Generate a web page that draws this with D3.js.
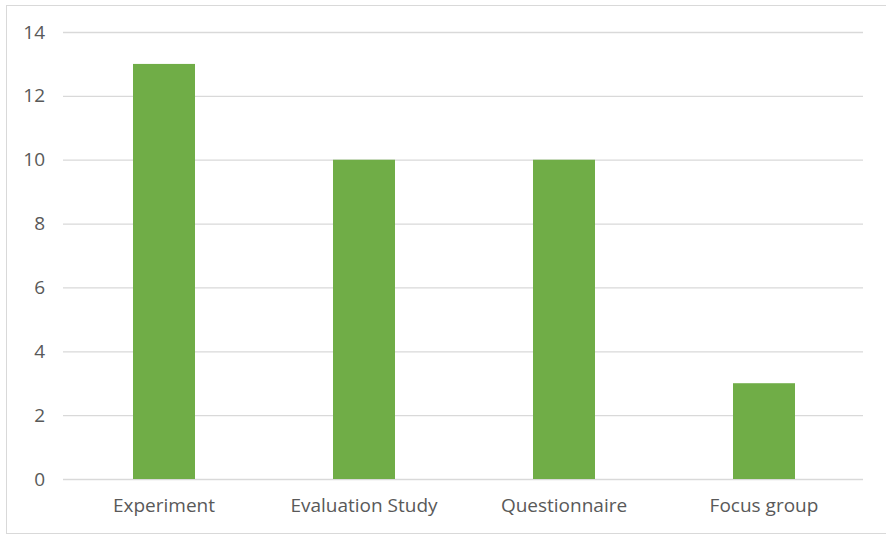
<!DOCTYPE html>
<html>
<head>
<meta charset="utf-8">
<script src="https://cdn.jsdelivr.net/npm/d3@7"></script>
<style>
  body { margin: 0; background: #fff; }
  text { font-family: "Open Sans", sans-serif; fill: #595959; }
</style>
</head>
<body>
<script>
// chart data
const categories = ['Experiment', 'Evaluation Study', 'Questionnaire', 'Focus group']
const counts = [13, 10, 10, 3]
const yTicks = [0, 2, 4, 6, 8, 10, 12, 14]

const m = {
    width: 886,
    height: 535,
    left: 64,
    right: 864,
    top: 32,
    bottom: 479
}

const svg = d3.select('body').append('svg')
    .attr('width', m.width)
    .attr('height', m.height)

// outer frame
svg.append('rect')
    .attr('x', 6.5)
    .attr('y', 5.5)
    .attr('width', m.width - 6)
    .attr('height', 528)
    .attr('fill', 'none')
    .attr('stroke', '#d9d9d9')

const x = d3.scaleBand()
    .domain(categories)
    .range([m.left, m.right])
    .paddingInner(0.69)
    .paddingOuter(0.345)

const y = d3.scaleLinear()
    .domain([0, 14])
    .range([m.bottom, m.top])

// gridlines
const yAxis = d3.axisLeft(y)
    .tickValues(yTicks)
    .tickSize(-(m.right - m.left))
    .tickPadding(18)

const gy = svg.append('g')
    .attr('transform', `translate(${m.left - 1},0)`)
    .call(yAxis)

gy.select('.domain').remove()
gy.selectAll('line')
    .attr('stroke', '#d9d9d9')
    .attr('stroke-width', 1.3)
gy.selectAll('text')
    .style('font-size', '19px')
    .attr('fill', '#595959')

// bars
svg.selectAll('.bar')
    .data(categories)
    .enter()
    .append('rect')
        .attr('class', 'bar')
        .attr('x', d => x(d))
        .attr('width', x.bandwidth())
        .attr('y', (d, i) => y(counts[i]))
        .attr('height', (d, i) => y(0) - y(counts[i]))
        .attr('fill', '#70ad47')

// category labels
const xAxis = d3.axisBottom(x)
    .tickSize(0)
    .tickPadding(20)

const gx = svg.append('g')
    .attr('transform', `translate(0,${m.bottom})`)
    .call(xAxis)

gx.select('.domain').remove()
gx.selectAll('text')
    .style('font-size', '19px')
    .attr('fill', '#595959')
</script>
</body>
</html>
